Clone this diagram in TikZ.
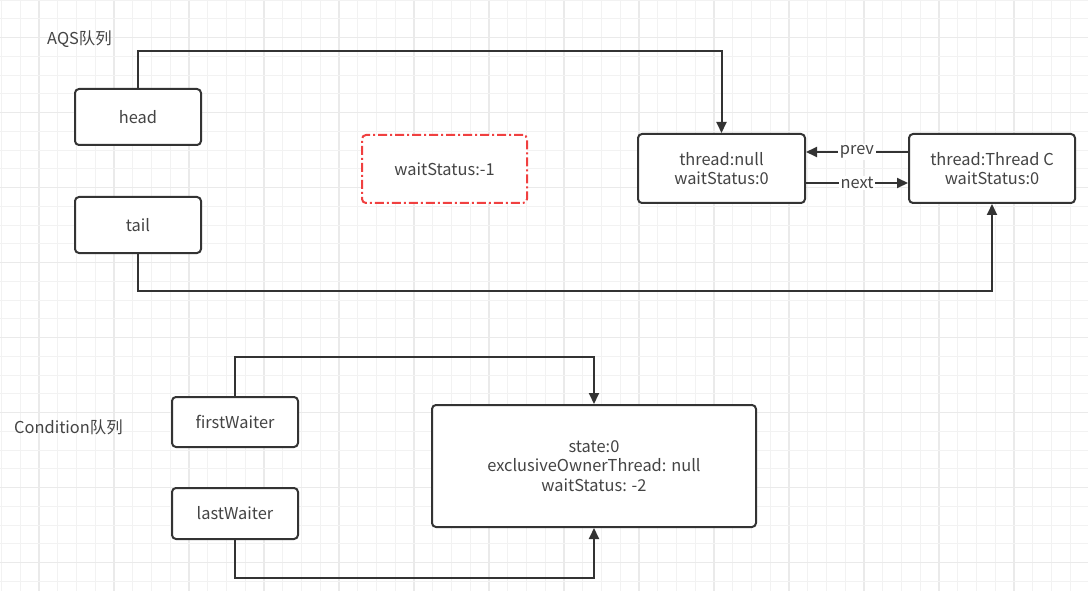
\documentclass[tikz,border=0pt]{standalone}
\usepackage{fontspec}
\setmainfont{Noto Sans CJK SC}
\usepackage{tikz}
\usetikzlibrary{arrows.meta,positioning}
\definecolor{lineGray}{HTML}{333333}
\definecolor{textGray}{HTML}{444444}
\definecolor{minorGrid}{HTML}{F2F2F2}
\definecolor{majorGrid}{HTML}{EAEAEA}
\definecolor{dashRed}{HTML}{F04040}
\tikzstyle{box} = [rectangle, rounded corners=4pt, draw=lineGray, line width=2pt, fill=white, text=textGray, align=center, font=\fontsize{16.4}{19.7}\selectfont, inner sep=0pt]
\tikzstyle{dashBox} = [rectangle, rounded corners=4pt, draw=dashRed, line width=2pt, fill=white, text=textGray, align=center, font=\fontsize{16.4}{19.7}\selectfont, dash pattern=on 9pt off 3pt on 2pt off 3pt]
\tikzstyle{arrow} = [draw=lineGray, line width=2pt, -{Triangle[length=11pt,width=10pt]}]
\tikzstyle{title} = [anchor=west, text=textGray, font=\fontsize{16.4}{19}\selectfont, inner sep=0pt]
\tikzstyle{tag} = [midway, fill=white, text=textGray, font=\fontsize{16.4}{19}\selectfont, inner sep=1.5pt]
\tikzstyle{minorLine} = [draw=minorGrid, line width=1pt]
\tikzstyle{majorLine} = [draw=majorGrid, line width=1.2pt]

\begin{document}
\begin{tikzpicture}[x=1pt, y=-1pt]
                    \useasboundingbox (0,0) rectangle (1088,591);
                    % grid
                    \foreach \i in {0,...,57} {
                        \pgfmathsetmacro{\gx}{1.5+18.75*\i}
                        \pgfmathtruncatemacro{\m}{mod(\i,4)}
                        \ifnum\m=2 \draw [majorLine] (\gx,0) -- (\gx,591);
                        \else \draw [minorLine] (\gx,0) -- (\gx,591); \fi
                    }
                    \foreach \j in {0,...,31} {
                        \pgfmathsetmacro{\gy}{0.2+18.75*\j}
                        \pgfmathtruncatemacro{\m}{mod(\j,4)}
                        \ifnum\m=2 \draw [majorLine] (0,\gy) -- (1088,\gy);
                        \else \draw [minorLine] (0,\gy) -- (1088,\gy); \fi
                    }
                    % AQS queue
                    \node (aqs) [title] at (47,39) {AQS队列};
                    \node (head) [box, minimum width=126pt, minimum height=56pt] at (138,117) {head};
                    \node (tail) [box, minimum width=126pt, minimum height=56pt] at (138,225) {tail};
                    \node (signal) [dashBox, minimum width=165pt, minimum height=68pt] at (444.5,169) {waitStatus:-1};
                    \node (nullNode) [box, minimum width=167pt, minimum height=69pt] at (721.5,168.5) {thread:null\\waitStatus:0};
                    \node (threadC) [box, minimum width=166pt, minimum height=69pt] at (992,168.5) {thread:Thread C\\waitStatus:0};
                    \draw [arrow] ([yshift=16.5pt]threadC.west) -- ([yshift=16.5pt]nullNode.east) node [tag] {prev};
                    \draw [arrow] ([yshift=-14.5pt]nullNode.east) -- ([yshift=-14.5pt]threadC.west) node [tag] {next};
                    \draw [arrow] (head.north) -- ++(0,-37) -| (nullNode.north);
                    \draw [arrow] (tail.south) -- ++(0,37) -| (threadC.south);
                    % condition queue
                    \node (cond) [title] at (14,427) {Condition队列};
                    \node (first) [box, minimum width=126pt, minimum height=50pt] at (235,422) {firstWaiter};
                    \node (last) [box, minimum width=126pt, minimum height=51pt] at (235,513.5) {lastWaiter};
                    \node (lock) [box, minimum width=324pt, minimum height=122pt] at (594,466) {state:0\\exclusiveOwnerThread: null\\waitStatus: -2};
                    \draw [arrow] (first.north) -- ++(0,-39) -| (lock.north);
                    \draw [arrow] (last.south) -- ++(0,38) -| (lock.south);
                \end{tikzpicture}
\end{document}
